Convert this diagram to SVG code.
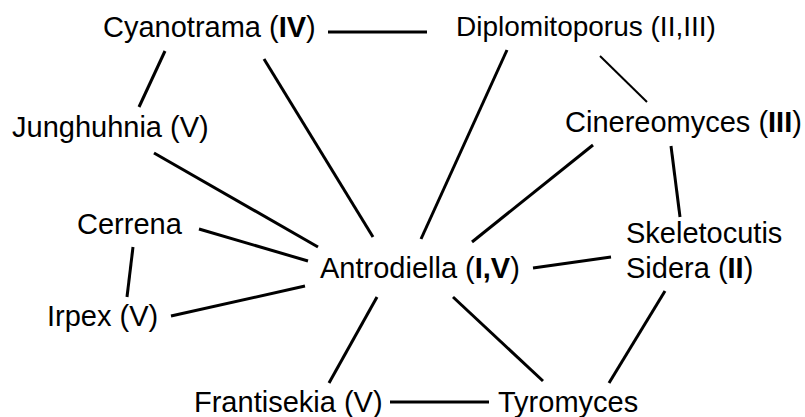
<svg xmlns="http://www.w3.org/2000/svg" width="805" height="417" viewBox="0 0 805 417">
<style>
text{font-family:"Liberation Sans",Arial,sans-serif;font-size:29px;fill:#000}
.b{font-weight:bold}
#edges line{stroke:#000;stroke-width:3;stroke-linecap:butt}
#edges line.t{stroke-width:2}
</style>
<rect width="805" height="417" fill="#fff"/>
<g id="edges">
<line x1="328" y1="32" x2="427" y2="32"/>
<line x1="165" y1="51" x2="139" y2="107"/>
<line x1="264" y1="59" x2="373" y2="237"/>
<line x1="154" y1="153" x2="318" y2="247"/>
<line x1="199" y1="229" x2="308" y2="261"/>
<line x1="133" y1="247" x2="127" y2="297"/>
<line x1="171" y1="316" x2="305" y2="286"/>
<line x1="377" y1="297" x2="329" y2="383"/>
<line x1="390" y1="402" x2="489" y2="402"/>
<line x1="507" y1="50" x2="421" y2="239"/>
<line class="t" x1="600" y1="56" x2="647" y2="102"/>
<line x1="593" y1="145" x2="472" y2="242"/>
<line x1="671" y1="146" x2="680" y2="217"/>
<line x1="533" y1="268" x2="611" y2="257"/>
<line x1="453" y1="297" x2="543" y2="381"/>
<line x1="665" y1="291" x2="609" y2="383"/>
</g>
<g id="cyanotrama"><text x="103" y="37">Cyanotrama (<tspan class="b">IV</tspan>)</text></g>
<g id="diplomitoporus"><text x="456" y="36" style="font-size:28px">Diplomitoporus (II,III)</text></g>
<g id="junghuhnia"><text x="12" y="137">Junghuhnia (V)</text></g>
<g id="cinereomyces"><text x="565" y="132">Cinereomyces (<tspan class="b">III</tspan>)</text></g>
<g id="cerrena"><text x="77" y="234">Cerrena</text></g>
<g id="antrodiella"><text x="320" y="278">Antrodiella (<tspan class="b">I,V</tspan>)</text></g>
<g id="skeletocutis"><text x="626" y="243">Skeletocutis</text><text x="626" y="278">Sidera (<tspan class="b">II</tspan>)</text></g>
<g id="irpex"><text x="47" y="326">Irpex (V)</text></g>
<g id="frantisekia"><text x="194" y="412">Frantisekia (V)</text></g>
<g id="tyromyces"><text x="498" y="412">Tyromyces</text></g>
</svg>
